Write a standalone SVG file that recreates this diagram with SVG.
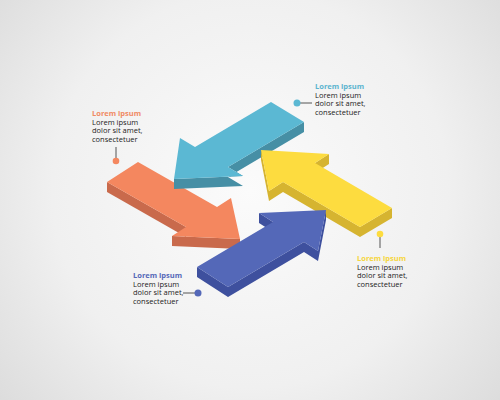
<svg xmlns="http://www.w3.org/2000/svg" width="500" height="400" viewBox="0 0 500 400">
  <defs>
    <radialGradient id="bg" cx="250" cy="190" r="330" gradientUnits="userSpaceOnUse">
      <stop offset="0" stop-color="#fbfbfb"/>
      <stop offset="0.6" stop-color="#f0f0f0"/>
      <stop offset="1" stop-color="#dcdcdc"/>
    </radialGradient>
    <style>
      .t { font-family: "Open Sans", "Noto Sans", "Liberation Sans", sans-serif; font-size: 7.5px; fill: #222; }
      .h { font-weight: bold; }
      .lead { stroke: #555; stroke-width: 1; fill: none; }
      .teal-top { fill: #5bb8d3; } .teal-side { fill: #468fa5; }
      .orange-top { fill: #f4875f; } .orange-side { fill: #c96a4c; }
      .yellow-top { fill: #fddc3f; } .yellow-side { fill: #d6b430; }
      .blue-top { fill: #5468b8; } .blue-side { fill: #3e509e; }
    </style>
  </defs>
  <rect width="500" height="400" fill="url(#bg)"/>

  <g id="arrow-orange">
    <polygon class="orange-side" points="240,239 172,236 172,246 240,249"/>
    <polygon class="orange-side" points="186,227 107,182 107,192 186,237"/>
    <polygon class="orange-top" points="138,162 217,207 231,198 240,239 172,236 186,227 107,182"/>
  </g>

  <g id="arrow-teal">
    <polygon class="teal-side" points="304,122 228,167 243,176 174,179 174,189 243,186 228,177 304,132"/>
    <polygon class="teal-top" points="271,102 304,122 228,167 243,176 174,179 180,138 195,147"/>
  </g>

  <g id="arrow-yellow">
    <polygon class="yellow-side" points="329,154 315,163 315,173 329,164"/>
    <polygon class="yellow-side" points="392,208 360,227 283,182 269,191 261,150 261,160 269,201 283,192 360,237 392,218"/>
    <polygon class="yellow-top" points="261,150 329,154 315,163 392,208 360,227 283,182 269,191"/>
  </g>

  <g id="arrow-blue">
    <polygon class="blue-side" points="273,222 259,213 259,223 273,232"/>
    <polygon class="blue-side" points="326,210 318,251 304,242 228,287 197,267 197,277 228,297 304,252 318,261 326,220"/>
    <polygon class="blue-top" points="197,267 273,222 259,213 326,210 318,251 304,242 228,287"/>
  </g>

  <g id="connectors">
    <line class="lead" x1="300" y1="103" x2="312" y2="103"/>
    <circle cx="297" cy="103" r="3.5" fill="#5bb8d3"/>
    <line class="lead" x1="116" y1="147" x2="116" y2="159"/>
    <circle cx="116" cy="161" r="3.3" fill="#f4875f"/>
    <line class="lead" x1="380" y1="236" x2="380" y2="248"/>
    <circle cx="380" cy="234" r="3.3" fill="#fddc3f"/>
    <line class="lead" x1="183" y1="293" x2="195" y2="293"/>
    <circle cx="198" cy="293" r="3.5" fill="#5468b8"/>
  </g>

  <g id="label-teal">
    <text class="t h" x="315" y="89" style="fill:#5bb4cf">Lorem ipsum</text>
    <text class="t" x="315" y="97.5">Lorem ipsum</text>
    <text class="t" x="315" y="106">dolor sit amet,</text>
    <text class="t" x="315" y="114.5">consectetuer</text>
  </g>

  <g id="label-orange">
    <text class="t h" x="92" y="116" style="fill:#f08a64">Lorem ipsum</text>
    <text class="t" x="92" y="124.5">Lorem ipsum</text>
    <text class="t" x="92" y="133">dolor sit amet,</text>
    <text class="t" x="92" y="141.5">consectetuer</text>
  </g>

  <g id="label-yellow">
    <text class="t h" x="357" y="261" style="fill:#f6d640">Lorem ipsum</text>
    <text class="t" x="357" y="269.5">Lorem ipsum</text>
    <text class="t" x="357" y="278">dolor sit amet,</text>
    <text class="t" x="357" y="286.5">consectetuer</text>
  </g>

  <g id="label-blue">
    <text class="t h" x="133" y="278" style="fill:#5468b8">Lorem ipsum</text>
    <text class="t" x="133" y="286.5">Lorem ipsum</text>
    <text class="t" x="133" y="295">dolor sit amet,</text>
    <text class="t" x="133" y="303.5">consectetuer</text>
  </g>
</svg>
